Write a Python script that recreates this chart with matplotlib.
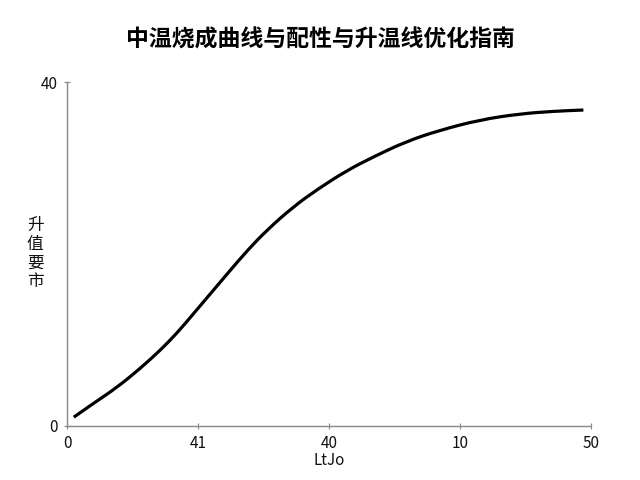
import matplotlib
matplotlib.use("Agg")
import matplotlib.pyplot as plt
from matplotlib.path import Path
from matplotlib.patches import PathPatch

plt.rcParams['font.family'] = ['Noto Sans CJK SC', 'DejaVu Sans']

title = "中温烧成曲线与配性与升温线优化指南"
ylabel_chars = ["升", "值", "要", "市"]
xlabel = "LtJo"
xtick_pos = [0, 12.5, 25, 37.5, 50]
xtick_labels = ["0", "41", "40", "10", "50"]
ytick_pos = [0, 40]
ytick_labels = ["0", "40"]

x_vals = [0.63, 2.5, 4.8, 7.0, 8.9, 10.5, 12.1, 13.7, 15.3, 17.2, 19.1, 21.6,
          24.0, 26.7, 29.25, 32.4, 35.6, 39.4, 43.2, 46.4, 49.3]
y_vals = [1.0, 2.6, 4.5, 6.7, 8.8, 10.8, 13.1, 15.4, 17.7, 20.4, 22.8, 25.5,
          27.6, 29.7, 31.3, 33.1, 34.4, 35.6, 36.3, 36.6, 36.75]

fig = plt.figure(figsize=(6.4, 4.8), dpi=100)
ax = fig.add_axes([0.105, 0.113, 0.818, 0.716])

# smooth curve through the read points (quadratic Bezier via midpoints)
pts = list(zip(x_vals, y_vals))
verts = [pts[0]]
codes = [Path.MOVETO]
mid0 = ((pts[0][0] + pts[1][0]) / 2, (pts[0][1] + pts[1][1]) / 2)
verts.append(mid0)
codes.append(Path.LINETO)
for i in range(1, len(pts) - 1):
    nxt = ((pts[i][0] + pts[i + 1][0]) / 2, (pts[i][1] + pts[i + 1][1]) / 2)
    verts += [pts[i], nxt]
    codes += [Path.CURVE3, Path.CURVE3]
verts.append(pts[-1])
codes.append(Path.LINETO)
ax.add_patch(PathPatch(Path(verts, codes), facecolor='none', edgecolor='black',
                       linewidth=2.3, capstyle='butt', joinstyle='round'))

ax.set_xlim(0, 50)
ax.set_ylim(0, 40)
ax.set_xticks(xtick_pos)
ax.set_xticklabels(xtick_labels, fontsize=11)
ax.set_yticks(ytick_pos)
ax.set_yticklabels(ytick_labels, fontsize=11)
for s in ['top', 'right']:
    ax.spines[s].set_visible(False)
for s in ['left', 'bottom']:
    ax.spines[s].set_color('#888888')
    ax.spines[s].set_linewidth(1.0)
ax.tick_params(axis='both', direction='inout', length=5, color='#888888', pad=4, labelcolor='#111111')
ax.set_xlabel(xlabel, fontsize=11, labelpad=0, color='#111111')

fig.text(0.5, 0.917, title, ha='center', va='center', fontsize=16.5, fontweight='bold')
fig.text(0.055, 0.472, "\n".join(ylabel_chars), ha='center', va='center', fontsize=12,
         linespacing=1.12, color='#111111')

fig.savefig("out.png", dpi=100, facecolor='white')
